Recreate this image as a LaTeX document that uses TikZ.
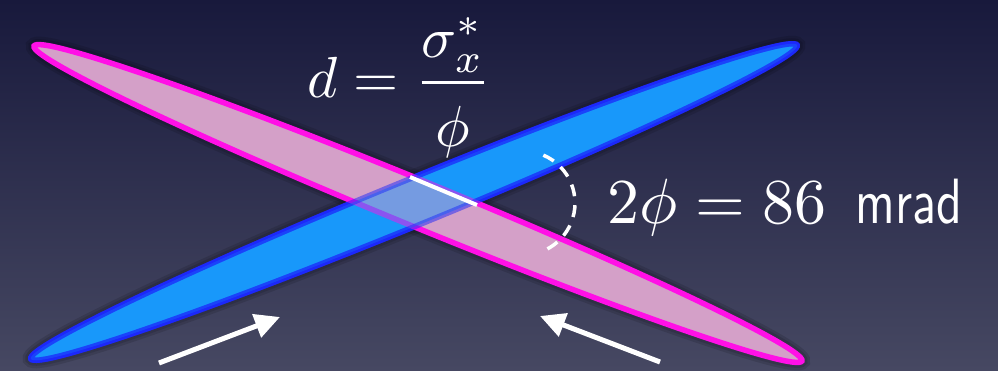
\documentclass[tikz,border=0pt]{standalone}
\usetikzlibrary{arrows.meta}
\definecolor{bgtop}{RGB}{24,25,60}
\definecolor{bgbot}{RGB}{70,72,98}
\definecolor{pinkfill}{RGB}{212,160,200}
\definecolor{pinkedge}{RGB}{255,16,230}
\definecolor{bluefill}{RGB}{24,152,250}
\definecolor{blueedge}{RGB}{28,40,250}
\begin{document}
\begin{tikzpicture}[x=1pt,y=1pt,
  beamblue/.style={fill=bluefill, draw=blueedge, line width=5.5pt},
  beampink/.style={fill=pinkfill, draw=pinkedge, line width=5.5pt},
  halo/.style={draw=black, opacity=0.12, line width=#1},
  whitearrow/.style={draw=white, line width=5pt, -{Triangle[length=25pt,width=24pt,fill=white]}},
  label/.style={anchor=base west, inner sep=0pt, text=white}
]
\shade[top color=bgtop, bottom color=bgbot] (0,0) rectangle (998,370);
\useasboundingbox (0,0) rectangle (998,370);
% beams
\coordinate (bc) at (414,168);
\coordinate (pc) at (418,166.5);
\foreach \w in {16pt,11pt} {
  \draw[halo=\w, rotate around={22.26:(bc)}] (bc) ellipse [x radius=414pt, y radius=23pt];
  \draw[halo=\w, rotate around={-22.3:(pc)}] (pc) ellipse [x radius=415pt, y radius=23pt];
}
\draw[beamblue, rotate around={22.26:(bc)}] (bc) ellipse [x radius=414pt, y radius=23pt];
\draw[beampink, rotate around={-22.3:(pc)}] (pc) ellipse [x radius=415pt, y radius=23pt];
\draw[beamblue, opacity=0.5, rotate around={22.26:(bc)}] (bc) ellipse [x radius=414pt, y radius=23pt];
% separation d
\coordinate (d1) at (410,193);
\coordinate (d2) at (477,165);
\draw[white, line width=4pt] (d1) -- (d2);
% crossing angle arc
\coordinate (ac) at (523,167);
\draw[white, line width=3.5pt, dash pattern=on 12pt off 9pt] (ac) ++(67:52) arc[start angle=67, end angle=-63, radius=52pt];
% arrows
\coordinate (la0) at (159,7);
\coordinate (la1) at (280,53);
\coordinate (ra0) at (660,8);
\coordinate (ra1) at (540,54);
\draw[whitearrow] (la0) -- (la1);
\draw[whitearrow] (ra0) -- (ra1);
% labels
\node[label, scale=5.8] (eqd) at (306,273) {$d=\displaystyle\frac{\sigma_x^*}{\raisebox{-1.6pt}{$\displaystyle\phi$}}$};
\node[label, scale=6.4] (eqphi) at (606,147) {$2\phi=86$\hspace{4.5pt}\scalebox{0.78}[1]{\sffamily mrad}};
\end{tikzpicture}
\end{document}
